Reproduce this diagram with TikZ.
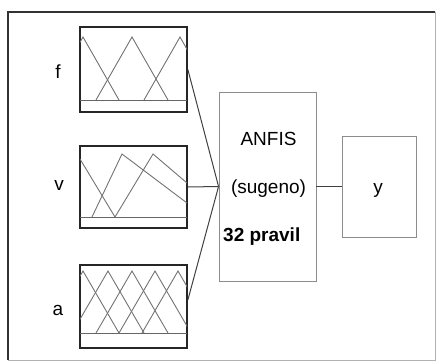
\documentclass[tikz,border=0pt]{standalone}
\usepackage{fontspec}
\setmainfont{Liberation Sans}
\begin{document}
\begin{tikzpicture}[x=1pt,y=-1pt,
  mfbox/.style={draw=black!85,line width=1.7pt,minimum width=107pt,inner sep=0pt},
  mf/.style={draw=black!55,line width=0.9pt},
  mfbase/.style={draw=black!60,line width=0.8pt},
  grbox/.style={draw=black!45,line width=0.9pt,inner sep=0pt},
  conn/.style={draw=black!75,line width=1pt},
  lbl/.style={font=\fontsize{19}{22}\selectfont,inner sep=0pt}]
\useasboundingbox (0,0) rectangle (436,362);
% outer frame
\draw[black!80,line width=1.6pt] (8,360) -- (8,12) -- (435,12);
\draw[black!30,line width=1pt] (435,12) -- (435,360) -- (8,360);

% membership-function panels
\node[mfbox,minimum height=85pt] (fbox) at (133.5,69.5) {};
\node[mfbox,minimum height=82pt] (vbox) at (133.5,187) {};
\node[mfbox,minimum height=83pt] (abox) at (133.5,306.5) {};

\begin{scope}
  \clip (80,27) rectangle (187,112);
  \foreach \p in {83,132,180}
    \draw[mf] (\p-36,100) -- (\p,37) -- (\p+36,100);
  \draw[mfbase] (80,100) -- (187,100);
\end{scope}

\begin{scope}
  \clip (80,146) rectangle (187,228);
  \draw[mf] (80,159) -- (115,217);
  \draw[mf] (92,217) -- (122,154) -- (187,203);
  \draw[mf] (115,217) -- (153,154) -- (187,183);
  \draw[mfbase] (80,217) -- (187,217);
\end{scope}

\begin{scope}
  \clip (80,265) rectangle (187,348);
  \foreach \p in {83,108,132,155,178}
    \draw[mf] (\p-36,333) -- (\p,271) -- (\p+36,333);
  \draw[mfbase] (80,333) -- (187,333);
\end{scope}

% input labels
\node[lbl,anchor=base] (lf) at (58,78) {f};
\node[lbl,anchor=base] (lv) at (59,190) {v};
\node[lbl,anchor=base] (la) at (58,315) {a};

% inference block and output
\node[grbox,minimum width=97pt,minimum height=189pt] (anfis) at (267.5,186.5) {};
\node[lbl,anchor=base] (t1) at (268.5,145) {ANFIS};
\node[lbl,anchor=base] (t2) at (268.5,193) {(sugeno)};
\node[lbl,anchor=base west,font=\fontsize{19}{22}\selectfont\bfseries] (t3) at (223,241) {32 pravil};

\node[grbox,minimum width=74pt,minimum height=101pt] (ybox) at (379,186.5) {};
\node[lbl,anchor=base] (ty) at (378,193) {y};

% connectors
\draw[conn] ([yshift=0pt]fbox.east) -- (anfis.west);
\draw[conn] (vbox.east) -- (anfis.west);
\draw[conn] ([yshift=6.5pt]abox.east) -- (anfis.west);
\draw[conn,line width=1.6pt] (anfis.east) -- (ybox.west);
\end{tikzpicture}
\end{document}
